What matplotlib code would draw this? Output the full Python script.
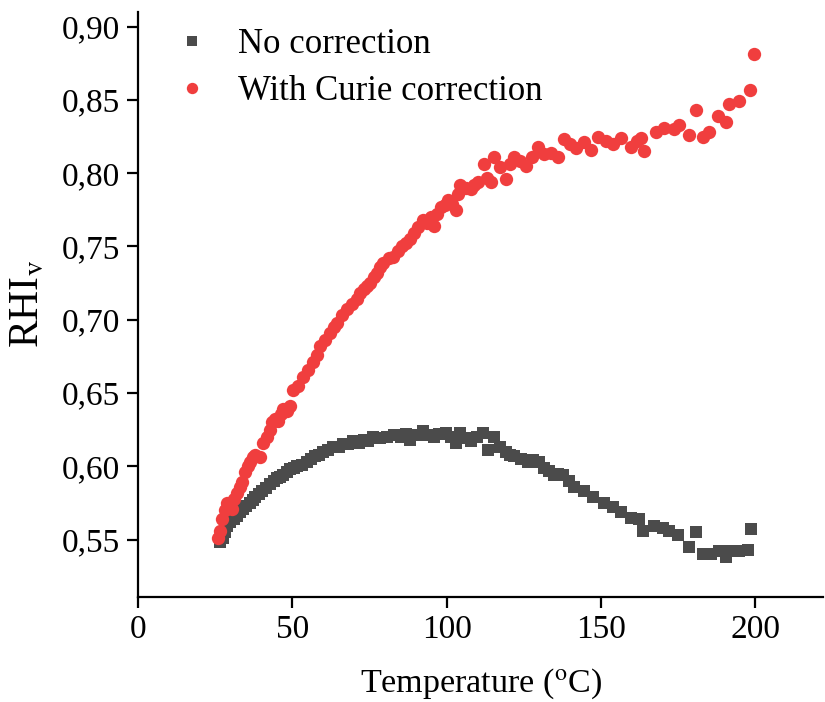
import matplotlib
matplotlib.use("Agg")
import matplotlib.pyplot as plt
from matplotlib.ticker import FuncFormatter

# No correction (black squares)
t_no = [26.6, 27.5, 28.2, 29.0, 29.9, 31.0, 32.1, 33.0, 34.1, 35.2, 36.4, 37.2, 38.0, 39.2,
        40.3, 41.6, 42.9, 44.0, 45.1, 46.1, 47.1, 48.2, 49.4, 50.5, 51.6, 53.2, 54.9, 56.2,
        57.5, 58.8, 60.1, 61.7, 63.3, 65.0, 66.6, 68.2, 69.8, 71.5, 73.1, 74.7, 76.3, 78.5,
        80.8, 83.0, 85.1, 86.7, 88.3, 90.4, 92.5, 94.2, 95.8, 97.7, 99.7, 101.3, 102.9, 104.5,
        106.1, 107.8, 109.7, 111.7, 113.3, 115.3, 117.2, 119.2, 120.5, 121.8, 124.0, 126.3,
        128.1, 129.9, 131.5, 133.1, 134.7, 136.2, 137.7, 139.5, 141.2, 144.5, 147.4, 151.0,
        153.9, 156.5, 159.7, 162.3, 163.6, 167.2, 170.1, 172.1, 175.0, 178.6, 180.8, 183.1,
        185.7, 188.3, 190.6, 192.2, 194.8, 197.7, 198.7]
rhi_no = [0.548, 0.551, 0.555, 0.559, 0.562, 0.564, 0.566, 0.569, 0.571, 0.573, 0.575, 0.577,
          0.579, 0.581, 0.583, 0.585, 0.588, 0.590, 0.592, 0.593, 0.594, 0.596, 0.598, 0.599,
          0.600, 0.601, 0.603, 0.605, 0.607, 0.608, 0.610, 0.611, 0.613, 0.613, 0.615, 0.615,
          0.617, 0.616, 0.618, 0.617, 0.620, 0.619, 0.620, 0.621, 0.620, 0.622, 0.618, 0.621,
          0.624, 0.621, 0.620, 0.622, 0.623, 0.620, 0.616, 0.623, 0.619, 0.617, 0.620, 0.623,
          0.611, 0.620, 0.613, 0.610, 0.608, 0.607, 0.605, 0.603, 0.604, 0.603, 0.599, 0.597,
          0.594, 0.595, 0.594, 0.590, 0.586, 0.583, 0.579, 0.575, 0.572, 0.569, 0.565, 0.564,
          0.556, 0.559, 0.558, 0.556, 0.553, 0.545, 0.555, 0.540, 0.540, 0.542, 0.538, 0.542,
          0.542, 0.543, 0.557]

# With Curie correction (red circles)
t_curie = [26.0, 26.6, 27.3, 28.1, 28.9, 30.5, 31.3, 32.1, 33.0, 33.8, 34.7, 35.6, 36.4, 37.2,
           38.0, 39.6, 40.6, 41.9, 42.7, 43.5, 44.5, 45.5, 46.3, 47.1, 48.3, 49.4, 50.3, 51.9,
           53.6, 55.2, 56.8, 58.0, 59.1, 60.7, 62.3, 63.5, 64.6, 66.2, 67.9, 69.5, 71.1, 72.1,
           73.1, 74.2, 75.3, 76.4, 77.6, 78.5, 79.5, 81.2, 82.8, 84.2, 85.7, 87.0, 88.3, 89.3,
           90.7, 92.2, 93.5, 94.8, 95.8, 97.0, 98.1, 99.4, 100.6, 101.8, 102.9, 103.8, 104.5,
           106.2, 107.8, 109.0, 110.1, 112.0, 113.2, 114.3, 115.3, 117.2, 119.2, 120.5, 121.8,
           123.7, 125.6, 127.5, 129.5, 131.5, 133.8, 136.0, 138.0, 140.0, 141.9, 144.5, 146.8,
           149.0, 151.5, 153.9, 156.5, 159.7, 161.5, 163.0, 164.0, 167.9, 170.5, 173.7, 175.3,
           178.6, 180.8, 183.1, 185.1, 188.0, 190.6, 191.6, 194.8, 198.1, 199.4]
rhi_curie = [0.551, 0.556, 0.564, 0.570, 0.575, 0.571, 0.578, 0.582, 0.586, 0.589, 0.596, 0.600,
             0.603, 0.606, 0.608, 0.606, 0.616, 0.620, 0.625, 0.630, 0.632, 0.631, 0.636, 0.639,
             0.638, 0.641, 0.652, 0.655, 0.661, 0.666, 0.671, 0.676, 0.682, 0.686, 0.691, 0.695,
             0.698, 0.703, 0.707, 0.711, 0.714, 0.718, 0.721, 0.723, 0.725, 0.729, 0.732, 0.736,
             0.739, 0.742, 0.743, 0.747, 0.750, 0.752, 0.755, 0.759, 0.763, 0.768, 0.766, 0.770,
             0.764, 0.772, 0.777, 0.778, 0.782, 0.779, 0.775, 0.786, 0.792, 0.790, 0.789, 0.792,
             0.794, 0.806, 0.797, 0.794, 0.811, 0.804, 0.796, 0.806, 0.811, 0.808, 0.805, 0.811,
             0.818, 0.813, 0.814, 0.811, 0.823, 0.820, 0.817, 0.821, 0.816, 0.825, 0.822, 0.820,
             0.824, 0.818, 0.822, 0.824, 0.815, 0.828, 0.831, 0.830, 0.833, 0.826, 0.843, 0.825,
             0.828, 0.839, 0.835, 0.847, 0.849, 0.857, 0.881]

yticks = [0.55, 0.60, 0.65, 0.70, 0.75, 0.80, 0.85, 0.90]
xticks = [0, 50, 100, 150, 200]

plt.rcParams["font.family"] = ["Liberation Serif", "DejaVu Serif"]
plt.rcParams["mathtext.fontset"] = "stix"

fig = plt.figure(figsize=(8.25, 7.02), dpi=100)
ax = fig.add_axes([0.167, 0.150, 0.831, 0.833])

ax.plot(t_no, rhi_no, "s", color="#4b4b4b", markersize=8.6, markeredgewidth=0,
        label="No correction")
ax.plot(t_curie, rhi_curie, "o", color="#f03e3e", markersize=9.6, markeredgewidth=0,
        label="With Curie correction")

ax.set_xlim(0, 222)
ax.set_ylim(0.511, 0.910)
ax.set_xticks(xticks)
ax.set_yticks(yticks)
ax.yaxis.set_major_formatter(FuncFormatter(lambda v, p: "{:.2f}".format(v).replace(".", ",")))

for s in ["top", "right"]:
    ax.spines[s].set_visible(False)
for s in ["left", "bottom"]:
    ax.spines[s].set_linewidth(1.6)
ax.tick_params(direction="out", length=8, width=1.6, labelsize=24, pad=5)

ax.set_xlabel("Temperature ($^{\\rm o}$C)", fontsize=24.5, labelpad=15)
ax.set_ylabel("RHI$_{\\rm v}$", fontsize=30, labelpad=10)

ax.legend(loc="upper left", bbox_to_anchor=(0.054, 0.973), frameon=False, fontsize=25,
          borderaxespad=0, borderpad=0, handlelength=1.0, handletextpad=0.83,
          labelspacing=0.42, markerscale=0.85)

plt.savefig("out.png", dpi=100)
